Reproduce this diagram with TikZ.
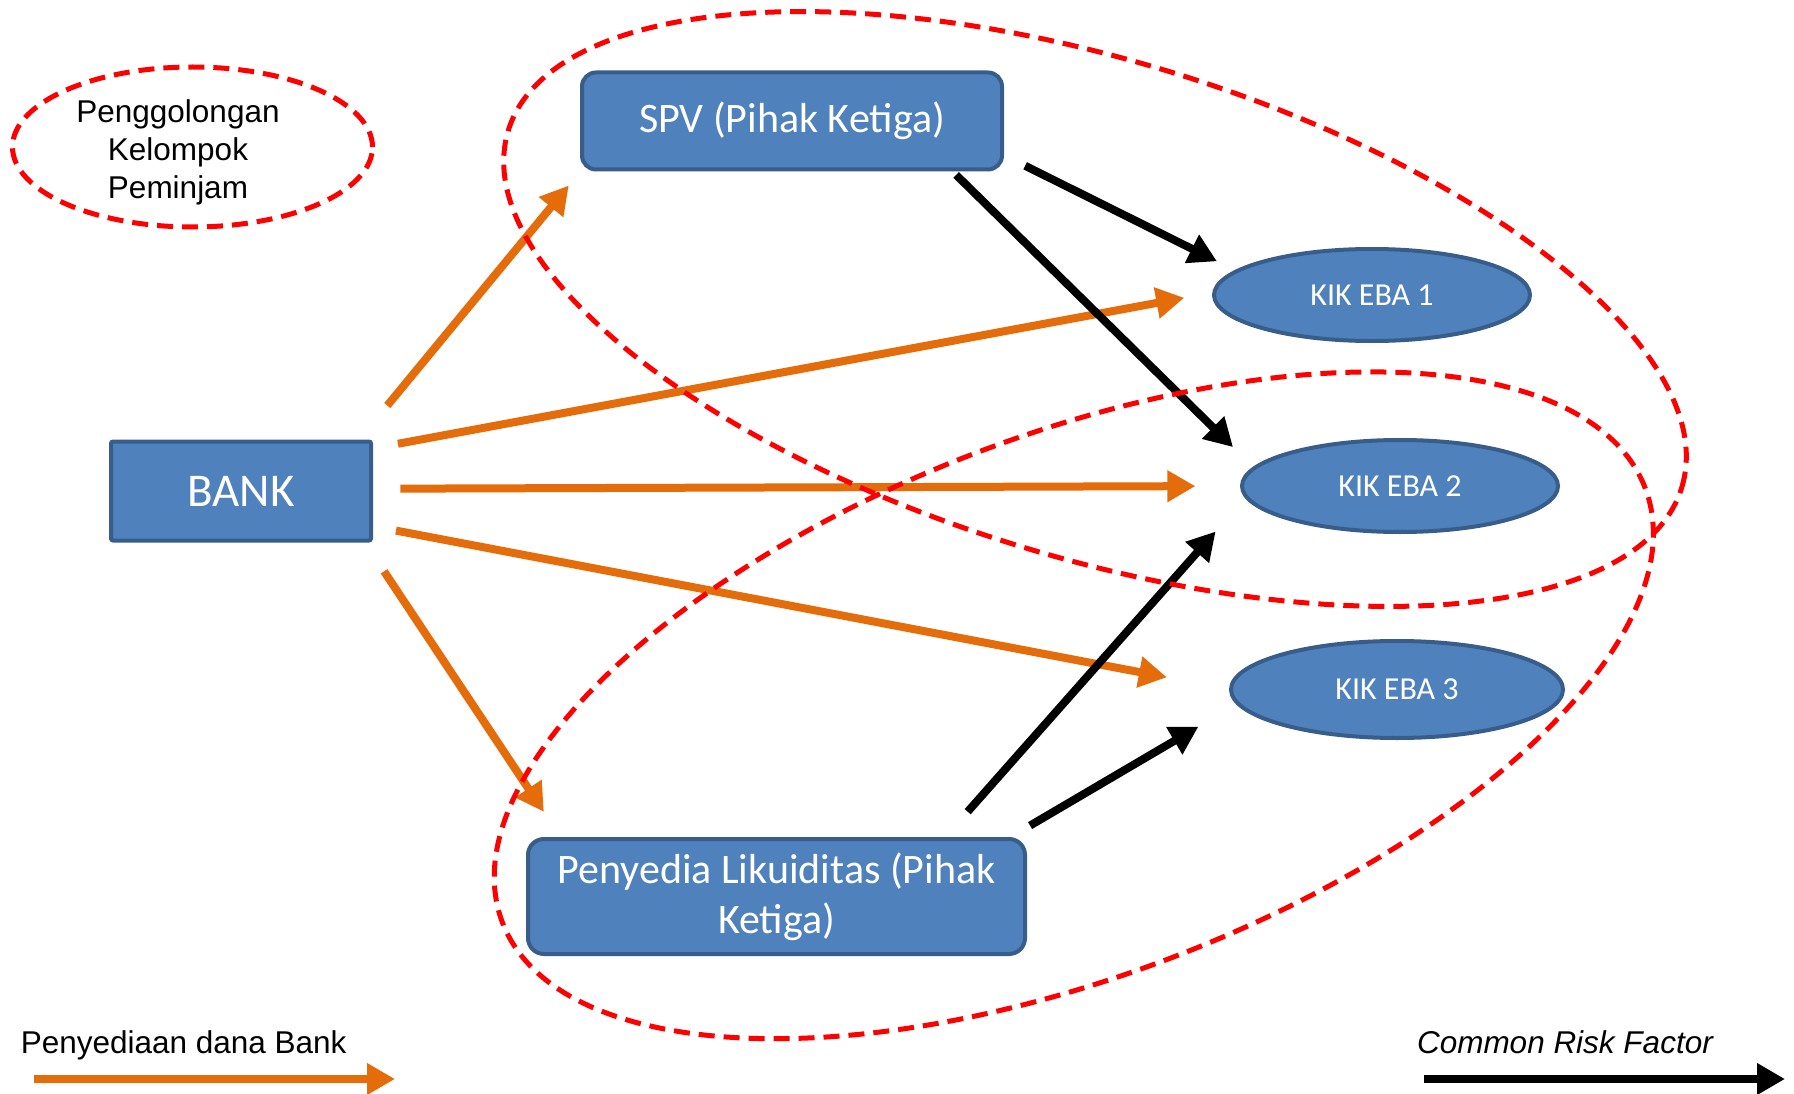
\documentclass[tikz,border=0pt]{standalone}
\usepackage{fontspec}
\setmainfont{Liberation Sans}
\newfontfamily\calib{Carlito}
\usetikzlibrary{arrows.meta,shapes.geometric}
\definecolor{boxfill}{HTML}{4F81BD}
\definecolor{boxline}{HTML}{385D8A}
\definecolor{orarrow}{HTML}{E46C0A}
\begin{document}
\begin{tikzpicture}[x=1pt,y=1pt,
  box/.style={draw=boxline, fill=boxfill, line width=4pt, text=white,
    font=\calib\fontsize{42}{50}\selectfont, inner sep=0pt, outer sep=0pt, align=center},
  kik/.style={ellipse, draw=boxline, fill=boxfill, line width=4pt, text=white,
    font=\calib\fontsize{32}{38}\selectfont, inner sep=0pt, outer sep=0pt},
  grp/.style={ellipse, draw=red, line width=5pt, dash pattern=on 16pt off 9pt,
    inner sep=0pt, outer sep=0pt},
  fund/.style={draw=orarrow, line width=8pt, -{Triangle[length=28pt,width=30pt]}},
  risk/.style={draw=black, line width=8pt, -{Triangle[length=28pt,width=30pt]}},
  lbl/.style={font=\fontsize{31.5}{38}\selectfont, inner sep=0pt, align=center}]
\fill[white] (0,0) rectangle (1794,-1094);
\useasboundingbox (0,0) rectangle (1794,-1094);

% main nodes
\node[box, rounded corners=14pt, minimum width=420pt, minimum height=97pt] (spv) at (792,-121) {SPV (Pihak Ketiga)};
\node[box, rounded corners=2pt, font=\calib\fontsize{47}{56}\selectfont, minimum width=260pt, minimum height=99pt] (bank) at (241,-491) {BANK};
\node[box, rounded corners=16pt, minimum width=497pt, minimum height=115pt] (liq) at (776.5,-896.5) {Penyedia Likuiditas (Pihak\\Ketiga)};
\node[kik, minimum width=316pt, minimum height=92pt] (k1) at (1372,-295) {KIK EBA 1};
\node[kik, minimum width=316pt, minimum height=92pt] (k2) at (1400,-486) {KIK EBA 2};
\node[kik, minimum width=332pt, minimum height=97pt] (k3) at (1397,-689.5) {KIK EBA 3};

% funding arrows
\draw[fund, shorten <=46.6pt, shorten >=20.8pt] (bank.23.43) -- (spv.193.44);
\draw[fund, shorten <=27.4pt, shorten >=30.6pt] (bank.18.42) -- (k1.179.82);
\draw[fund, shorten <=29.4pt, shorten >=46.6pt] (bank.1.6) -- (k2.180.93);
\draw[fund, shorten <=25.4pt, shorten >=65.3pt] (bank.345.86) -- (k3.180.5);
\draw[fund, shorten <=37pt, shorten >=32.6pt] (bank.338.95) -- (liq.165.53);

% common risk arrows
\draw[risk, shorten <=25.9pt, shorten >=22.2pt] (spv.351.68) -- (k1.170.57);
\draw[risk, shorten <=7.7pt, shorten >=30pt] (spv.343.49) -- (k2.173.77);
\draw[risk, shorten <=36.5pt, shorten >=46.4pt] (liq.19.78) -- (k2.184.38);
\draw[risk, shorten <=26.5pt, shorten >=45.9pt] (liq.14.31) -- (k3.185.73);

% grouping ellipses
\node[grp, minimum width=1226.6pt, minimum height=497.6pt, rotate=-16.9] (g1) at (1095,-309) {};
\node[grp, minimum width=1222.6pt, minimum height=541.4pt, rotate=20.8] (g2) at (1073.8,-705.3) {};
\node[grp, minimum width=360pt, minimum height=160pt] (g0) at (192.5,-147) {};
\node[lbl] (t0) at (178,-152) {Penggolongan\\Kelompok\\Peminjam};

% legend
\node[lbl, anchor=base west] (l1) at (20.6,-1053) {Penyediaan dana Bank};
\node[lbl, anchor=base east, font=\itshape\fontsize{31.5}{38}\selectfont] (l2) at (1713,-1053) {Common Risk Factor};
\coordinate (lo1) at (34,-1079);
\coordinate (lo2) at (395,-1079);
\draw[fund] (lo1) -- (lo2);
\coordinate (lb1) at (1424,-1079);
\coordinate (lb2) at (1785,-1079);
\draw[risk] (lb1) -- (lb2);
\end{tikzpicture}
\end{document}
